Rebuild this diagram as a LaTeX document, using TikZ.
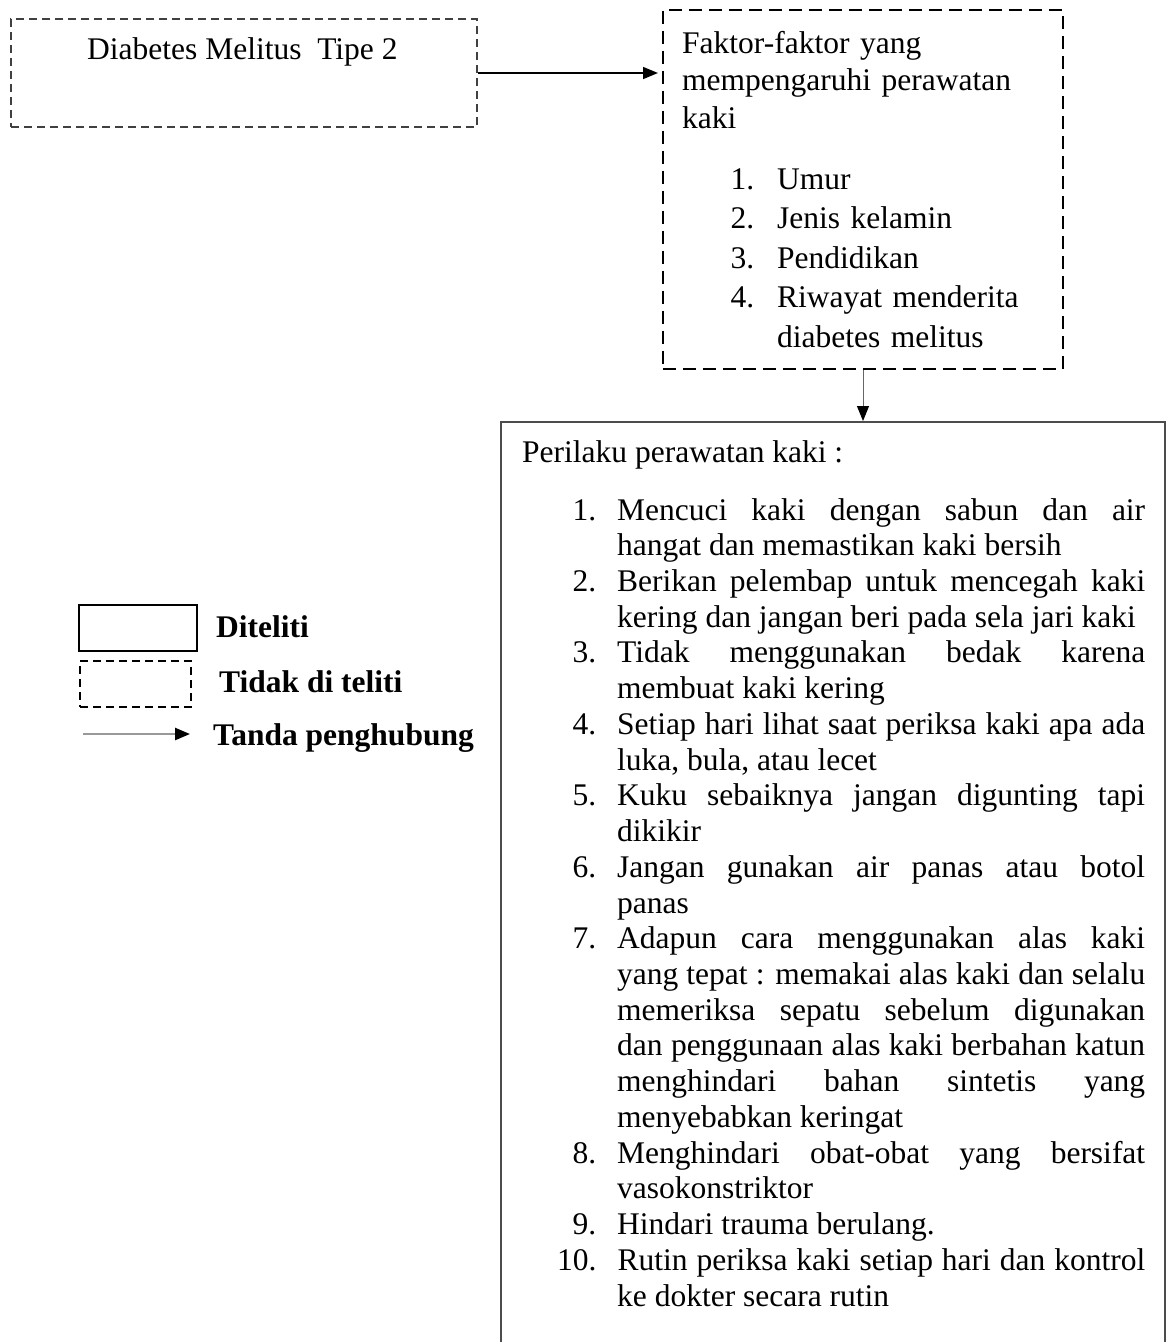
\documentclass[tikz,border=0pt]{standalone}
\usepackage{fontspec}
\setmainfont{Liberation Serif}
\usetikzlibrary{arrows.meta}

\begin{document}
\begin{tikzpicture}[x=1pt,y=1pt,yscale=-1,
  teks/.style={inner sep=0pt, font=\fontsize{31.5}{35.73}\selectfont},
  tebal/.style={inner sep=0pt, font=\fontsize{31.5}{35.73}\selectfont\bfseries},
  putus1/.style={draw=black!75, line width=1.2pt, dash pattern=on 8pt off 5pt, inner sep=0pt},
  putus2/.style={draw=black, line width=2pt, dash pattern=on 13pt off 7pt, inner sep=0pt},
  kotak/.style={draw=black!70, line width=2pt, inner sep=0pt},
  panah/.style={-{Triangle[length=15pt,width=12pt,color=black]}},
]
\clip (0,0) rectangle (1173,1342);
\tolerance=10000 \hyphenpenalty=10000 \exhyphenpenalty=10000

%Kotak: Diabetes Melitus
\node[putus1, minimum width=466pt, minimum height=108pt] (dm) at (244,73) {};
\node[teks, anchor=base west] (dmt) at (87,59) {Diabetes Melitus\ \ Tipe 2};

%Kotak: faktor-faktor
\node[putus2, minimum width=400pt, minimum height=359pt] (fk) at (863,189.5) {};
\node[teks, anchor=base west, text width=370pt, align=left,
  font=\fontsize{31.5}{37.5}\selectfont] (fkt) at (682,53)
  {Faktor-faktor yang\\ mempengaruhi perawatan\\ kaki};
\node[teks, anchor=base west, text width=320pt, align=left,
  font=\fontsize{31.5}{39.5}\selectfont] (fkl) at (730,149.5) {%
  \begin{list}{}{\setlength\leftmargin{47pt}\setlength\labelwidth{24pt}%
    \setlength\labelsep{23pt}\setlength\itemsep{0pt}\setlength\parsep{0pt}%
    \setlength\topsep{0pt}}
  \item[1.] Umur
  \item[2.] Jenis kelamin
  \item[3.] Pendidikan
  \item[4.] Riwayat menderita\newline diabetes melitus
  \end{list}};

%Kotak: perilaku perawatan kaki
\node[kotak, minimum width=664pt, minimum height=948pt] (pk) at (833,896) {};
\node[teks, anchor=base west] (pkt) at (522,462) {Perilaku perawatan kaki :};
\node[teks, anchor=base west, text width=588pt, align=justify] (pkl) at (557,484.3) {%
  \begin{list}{}{\setlength\leftmargin{60pt}\setlength\labelwidth{39pt}%
    \setlength\labelsep{21pt}\setlength\itemsep{0pt}\setlength\parsep{0pt}%
    \setlength\topsep{0pt}}
  \item[1.] Mencuci kaki dengan sabun dan air\linebreak
    hangat dan memastikan kaki bersih
  \item[2.] Berikan pelembap untuk mencegah kaki\linebreak
    kering dan jangan beri pada sela jari kaki
  \item[3.] Tidak menggunakan bedak karena\linebreak
    membuat kaki kering
  \item[4.] Setiap hari lihat saat periksa kaki apa ada\linebreak
    luka, bula, atau lecet
  \item[5.] Kuku sebaiknya jangan digunting tapi\linebreak
    dikikir
  \item[6.] Jangan gunakan air panas atau botol\linebreak
    panas
  \item[7.] Adapun cara menggunakan alas kaki\linebreak
    yang tepat : memakai alas kaki dan selalu\linebreak
    memeriksa sepatu sebelum digunakan\linebreak
    dan penggunaan alas kaki berbahan katun\linebreak
    menghindari bahan sintetis yang\linebreak
    menyebabkan keringat
  \item[8.] Menghindari obat-obat yang bersifat\linebreak
    vasokonstriktor
  \item[9.] Hindari trauma berulang.
  \item[10.] Rutin periksa kaki setiap hari dan kontrol\linebreak
    ke dokter secara rutin
  \end{list}};

%Penghubung
\draw[panah, line width=1.5pt, shorten >=4pt] (dm.east) -- (dm.east -| fk.west);
\draw[panah, draw=black!60, line width=1pt] (fk.south) -- (fk.south |- pk.north);

%Keterangan
\node[draw=black, line width=1.5pt, inner sep=0pt, minimum width=118pt,
  minimum height=46pt] (lgs) at (138,628) {};
\node[putus1, draw=black, minimum width=111pt, minimum height=46pt] (lgd) at (135.5,684) {};
\coordinate (lga) at (83,734);
\coordinate (lgb) at (190,734);
\draw[panah, draw=black!40, line width=2.5pt] (lga) -- (lgb);
\node[tebal, anchor=base west] (lgst) at (216,637) {Diteliti};
\node[tebal, anchor=base west] (lgdt) at (219,692) {Tidak di teliti};
\node[tebal, anchor=base west] (lgat) at (213,745) {Tanda penghubung};

\end{tikzpicture}
\end{document}
